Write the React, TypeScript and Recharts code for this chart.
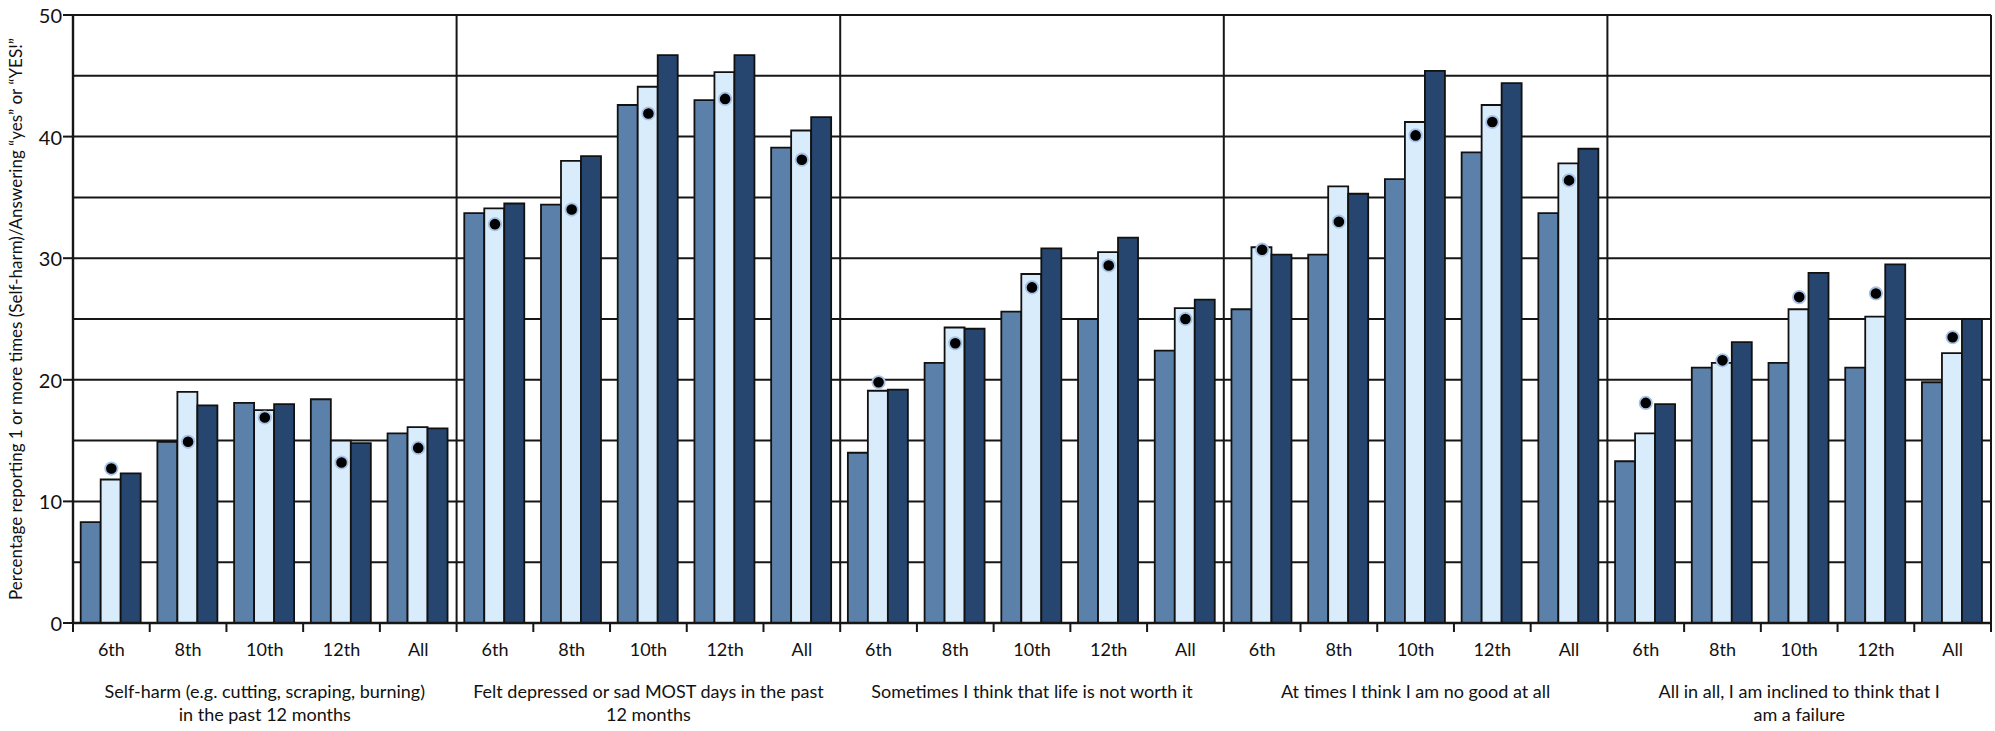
import React from "react";
import { Bar, CartesianGrid, ComposedChart, Line, ReferenceLine, XAxis, YAxis } from "recharts";

const grades = ["6th", "8th", "10th", "12th", "All"];

const groupLabels = [
  ["Self-harm (e.g. cutting, scraping, burning)", "in the past 12 months"],
  ["Felt depressed or sad MOST days in the past", "12 months"],
  ["Sometimes I think that life is not worth it"],
  ["At times I think I am no good at all"],
  ["All in all, I am inclined to think that I", "am a failure"],
];

// one row per group, one value per grade
const midValues = [
  [8.3, 14.9, 18.1, 18.4, 15.6],
  [33.7, 34.4, 42.6, 43.0, 39.1],
  [14.0, 21.4, 25.6, 25.0, 22.4],
  [25.8, 30.3, 36.5, 38.7, 33.7],
  [13.3, 21.0, 21.4, 21.0, 19.8],
];
const lightValues = [
  [11.8, 19.0, 17.5, 15.0, 16.1],
  [34.1, 38.0, 44.1, 45.3, 40.5],
  [19.1, 24.3, 28.7, 30.5, 25.9],
  [30.9, 35.9, 41.2, 42.6, 37.8],
  [15.6, 21.4, 25.8, 25.2, 22.2],
];
const darkValues = [
  [12.3, 17.9, 18.0, 14.8, 16.0],
  [34.5, 38.4, 46.7, 46.7, 41.6],
  [19.2, 24.2, 30.8, 31.7, 26.6],
  [30.3, 35.3, 45.4, 44.4, 39.0],
  [18.0, 23.1, 28.8, 29.5, 25.0],
];
const dotValues = [
  [12.7, 14.9, 16.9, 13.2, 14.4],
  [32.8, 34.0, 41.9, 43.1, 38.1],
  [19.8, 23.0, 27.6, 29.4, 25.0],
  [30.7, 33.0, 40.1, 41.2, 36.4],
  [18.1, 21.6, 26.8, 27.1, 23.5],
];

const yTicks = [0, 5, 10, 15, 20, 25, 30, 35, 40, 45, 50];

const data = groupLabels.flatMap((_, g) =>
  grades.map((grade, i) => ({
    id: `${g}-${grade}`,
    grade,
    group: g,
    slot: i,
    mid: midValues[g][i],
    light: lightValues[g][i],
    dark: darkValues[g][i],
    dot: dotValues[g][i],
  }))
);

const FONT = "Lato, 'Open Sans', sans-serif";
const INK = "#161616";

const XTick = (props: any) => {
  const { x, y, payload, index } = props;
  const half = payload.offset || 0;
  const row = data[index];
  const last = index === data.length - 1;
  return (
    <g>
      <line x1={x - half} x2={x - half} y1={y} y2={y + 9} stroke={INK} strokeWidth={2} />
      {last && <line x1={x + half} x2={x + half} y1={y} y2={y + 9} stroke={INK} strokeWidth={2} />}
      <text x={x} y={y + 26} textAnchor="middle" dominantBaseline="central" fontFamily={FONT} fontSize={18} fill="#111">
        {row.grade}
      </text>
      {row.slot === 2 &&
        groupLabels[row.group].map((line, k) => (
          <text
            key={k}
            x={x}
            y={y + 68 + k * 23}
            textAnchor="middle"
            dominantBaseline="central"
            fontFamily={FONT}
            fontSize={18}
            fill="#111"
          >
            {line}
          </text>
        ))}
    </g>
  );
};

const YTick = (props: any) => {
  const { x, y, payload } = props;
  if (payload.value % 10 !== 0) return <g />;
  return (
    <g>
      <line x1={x - 10} x2={x} y1={y} y2={y} stroke={INK} strokeWidth={2} />
      <text x={x - 11} y={y} textAnchor="end" dominantBaseline="central" fontFamily={FONT} fontSize={20} fill="#111">
        {payload.value}
      </text>
    </g>
  );
};

const YLabel = (props: any) => {
  const vb = props.viewBox;
  const cx = vb.x + 15;
  const cy = vb.y + vb.height / 2;
  return (
    <text
      x={cx}
      y={cy}
      transform={`rotate(-90 ${cx} ${cy})`}
      textAnchor="middle"
      dominantBaseline="central"
      fontFamily={FONT}
      fontSize={17}
      fill="#111"
    >
      Percentage reporting 1 or more times (Self-harm)/Answering “yes” or “YES!”
    </text>
  );
};

export default function App() {
  const separators = data.filter((d) => d.slot === 4).map((d) => d.id);
  return (
    <div style={{ position: "absolute", left: 0, top: 0, background: "#fff" }}>
      <ComposedChart
        width={1995}
        height={731}
        data={data}
        margin={{ top: 15, right: 4, left: 0, bottom: 0 }}
        barCategoryGap="10%"
        barGap={0}
      >
        <CartesianGrid horizontal vertical={false} stroke={INK} strokeWidth={2} strokeOpacity={1} />
        <XAxis
          dataKey="id"
          interval={0}
          height={108}
          tick={<XTick />}
          tickLine={false}
          tickSize={0}
          tickMargin={0}
          axisLine={{ stroke: INK, strokeWidth: 2.4 }}
        />
        <YAxis
          domain={[0, 50]}
          ticks={yTicks}
          width={73}
          interval={0}
          tick={<YTick />}
          tickLine={false}
          tickSize={0}
          tickMargin={0}
          axisLine={{ stroke: INK, strokeWidth: 2.4 }}
          label={<YLabel />}
        />
        {separators.map((id) => (
          <ReferenceLine key={id} x={id} position="end" stroke={INK} strokeWidth={2} />
        ))}
        <Bar dataKey="mid" fill="#5b80a9" stroke="#111" strokeWidth={1.8} isAnimationActive={false} />
        <Bar dataKey="light" fill="#d9ecfc" stroke="#111" strokeWidth={1.8} isAnimationActive={false} />
        <Bar dataKey="dark" fill="#26466f" stroke="#111" strokeWidth={1.8} isAnimationActive={false} />
        <Line
          dataKey="dot"
          stroke="none"
          dot={{ r: 6.2, fill: "#000", stroke: "#a6c2e4", strokeWidth: 1.8 }}
          activeDot={false}
          isAnimationActive={false}
        />
      </ComposedChart>
    </div>
  );
}
